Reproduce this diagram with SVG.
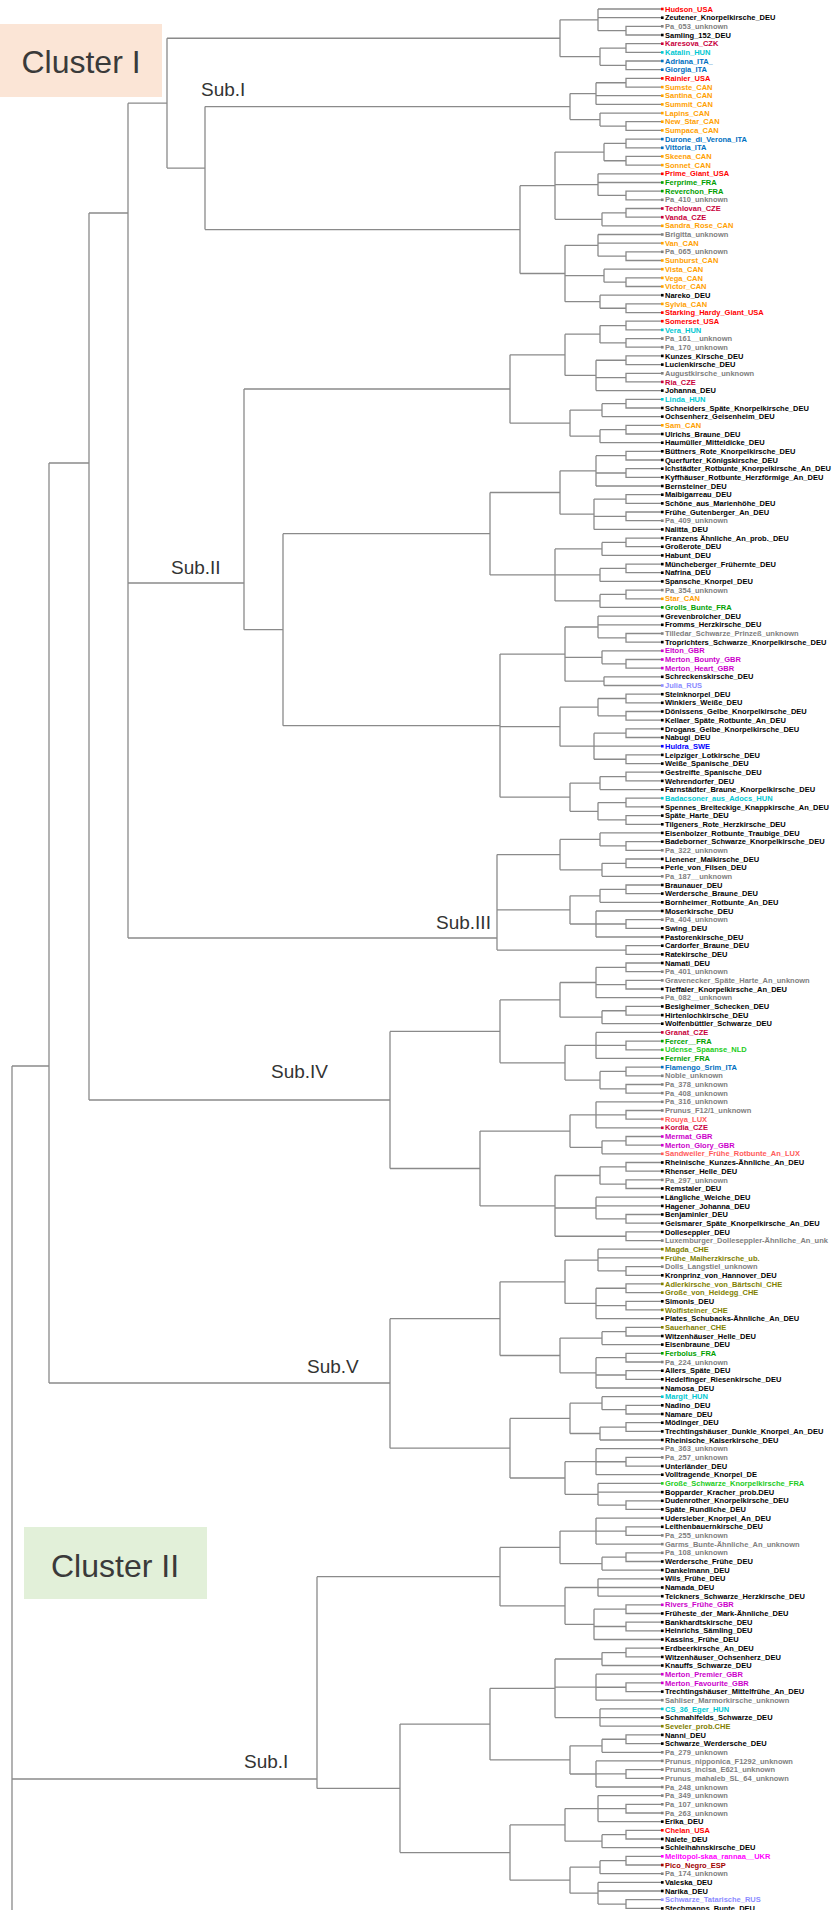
<svg xmlns="http://www.w3.org/2000/svg" width="836" height="1910" viewBox="0 0 836 1910">
<style>
.e{fill:none;stroke:#8a8a8a;stroke-width:1.3}
text.t{font-family:"Liberation Sans",Arial,sans-serif;font-size:7.5px;font-weight:bold}
.big{font-family:"Liberation Sans",Arial,sans-serif;font-size:32px;fill:#3a3a3a}
.sub{font-family:"Liberation Sans",Arial,sans-serif;font-size:19px;fill:#333}
.r{fill:#ff0000}.k{fill:#000}.g{fill:#808080}.cz{fill:#c8003c}.cy{fill:#00c8d2}.bl{fill:#0070c0}.o{fill:#ffa000}.gr{fill:#00a000}.lg{fill:#22cc22}.mg{fill:#cc00cc}.mf{fill:#ff00ff}.lb{fill:#8c8cff}.bb{fill:#0000ff}.sl{fill:#ff5a5a}.ol{fill:#808000}.dr{fill:#a00000}
</style>
<rect x="0" y="24" width="162" height="73" fill="#fbe5d6"/>
<text class="big" x="81" y="73" text-anchor="middle">Cluster I</text>
<rect x="24" y="1527" width="183" height="72" fill="#e2f0d9"/>
<text class="big" x="115" y="1577" text-anchor="middle">Cluster II</text>
<text class="sub" x="201" y="96">Sub.I</text>
<text class="sub" x="171" y="574">Sub.II</text>
<text class="sub" x="436" y="929">Sub.III</text>
<text class="sub" x="271" y="1078">Sub.IV</text>
<text class="sub" x="307" y="1373">Sub.V</text>
<text class="sub" x="244" y="1768">Sub.I</text>
<g id="connectors" class="e">
<path id="skeleton" d="M12 1066V1910M12 1066H49M49 463V1383M49 463H89M89 213V1100M89 213H128M128 103.2V938M128 103.2H167M128 583H244M128 938H497M89 1100H390M49 1383H390M12 1779H317"/>
<path id="subI" d="M598 9V30.65M598 9H661M598 17.7H661M661 26.3H626V35H661M598 30.65H626M600 48.05V65.35M661 43.7H626V52.4H661M600 48.05H626M661 61H626V69.7H661M600 65.35H626M596 82.75V104.4M661 78.4H626V87.1H661M596 82.75H626M596 95.7H661M596 104.4H661M600 113.1V126.05M600 113.1H661M661 121.7H626V130.4H661M600 126.05H626M604 143.45V160.75M661 139.1H626V147.8H661M604 143.45H626M661 156.4H626V165.1H661M604 160.75H626M598 173.8V195.45M598 173.8H661M598 182.5H661M661 191.1H626V199.8H661M598 195.45H626M602 212.85V225.8M661 208.5H626V217.2H661M602 212.85H626M602 225.8H661M598 234.5V256.15M598 234.5H661M598 243.2H661M661 251.8H626V260.5H661M598 256.15H626M604 269.2V282.2M604 269.2H661M661 277.9H626V286.5H661M604 282.2H626M600 295.2V308.25M600 295.2H661M661 303.9H626V312.6H661M600 308.25H626M560 19.8V56.7M560 19.8H598M560 56.7H600M570 93.6V119.6M570 93.6H596M570 119.6H600M555 152.1V219.3M555 152.1H604M555 184.6H598M555 219.3H602M565 245.3V301.7M565 245.3H598M565 275.7H604M565 301.7H600M520 185.7V273.5M520 185.7H555M520 273.5H565M205 106.6V229.6M205 106.6H570M205 229.6H520M167 38.25V168.1M167 38.25H560M167 168.1H205"/>
<path id="subII" d="M600 325.55V342.9M661 321.2H626V329.9H661M600 325.55H626M661 338.6H626V347.2H661M600 342.9H626M596 360.25V390.6M661 355.9H626V364.6H661M596 360.25H626M661 373.3H626V381.9H661M596 377.6H626M596 390.6H661M602 403.65V416.6M661 399.3H626V408H661M602 403.65H626M602 416.6H661M600 429.65V442.7M661 425.3H626V434H661M600 429.65H626M600 442.7H661M596 455.65V486M661 451.3H626V460H661M596 455.65H626M661 468.7H626V477.3H661M596 473H626M596 486H661M594 499.05V529.4M661 494.7H626V503.4H661M594 499.05H626M661 512H626V520.7H661M594 516.35H626M594 529.4H661M602 542.4V555.4M661 538.1H626V546.7H661M602 542.4H626M602 555.4H661M600 568.4V581.4M661 564.1H626V572.7H661M600 568.4H626M600 581.4H661M600 594.45V607.4M661 590.1H626V598.8H661M600 594.45H626M600 607.4H661M598 616.1V637.8M598 616.1H661M598 624.8H661M661 633.5H626V642.1H661M598 637.8H626M602 650.8V663.8M602 650.8H661M661 659.5H626V668.1H661M602 663.8H626M604 676.8V685.5M604 676.8H661M604 685.5H661M598 698.5V715.85M661 694.2H626V702.8H661M598 698.5H626M661 711.5H626V720.2H661M598 715.85H626M594 733.2V759.25M661 728.9H626V737.5H661M594 733.2H626M594 746.2H661M661 754.9H626V763.6H661M594 759.25H626M600 776.55V789.6M661 772.2H626V780.9H661M600 776.55H626M600 789.6H661M598 802.55V819.95M661 798.2H626V806.9H661M598 802.55H626M661 815.6H626V824.3H661M598 819.95H626M565 334.2V375.4M565 334.2H600M565 375.4H596M570 410.1V436.2M570 410.1H602M570 436.2H600M560 470.8V514.2M560 470.8H596M560 514.2H594M555 548.9V600.9M555 548.9H602M555 574.9H600M555 600.9H600M565 627V681.2M565 627H598M565 657.3H602M565 681.2H604M560 707.2V746.2M560 707.2H598M560 746.2H594M570 783.1V811.3M570 783.1H600M570 811.3H598M510 354.8V423.2M510 354.8H565M510 423.2H570M490 492.5V574.9M490 492.5H560M490 574.9H555M500 654.1V797.2M500 654.1H565M500 726.7H560M500 797.2H570M283 533.7V725.7M283 533.7H490M283 725.7H500M244 389V629.7M244 389H510M244 629.7H283"/>
<path id="subIII" d="M600 832.9V845.95M600 832.9H661M661 841.6H626V850.3H661M600 845.95H626M602 863.3V876.3M661 859H626V867.6H661M602 863.3H626M602 876.3H661M600 889.3V902.3M661 885H626V893.6H661M600 889.3H626M600 902.3H661M596 911V937M596 911H661M661 919.7H626V928.3H661M596 924H626M596 937H661M661 945.7H626V954.4H661M497 950.05H626M560 839.4V869.8M560 839.4H600M560 869.8H602M570 895.8V924M570 895.8H600M570 924H596M497 854.6V950.05M497 854.6H560M497 909.9H570"/>
<path id="subIV" d="M596 967.35V997.7M661 963H626V971.7H661M596 967.35H626M661 980.4H626V989H661M596 984.7H626M596 997.7H661M602 1010.75V1023.7M661 1006.4H626V1015.1H661M602 1010.75H626M602 1023.7H661M596 1032.4V1058.4M596 1032.4H661M661 1041.1H626V1049.8H661M596 1045.45H626M596 1058.4H661M600 1071.45V1088.8M661 1067.1H626V1075.8H661M600 1071.45H626M661 1084.5H626V1093.1H661M600 1088.8H626M596 1101.8V1127.8M596 1101.8H661M661 1110.5H626V1119.1H661M596 1114.8H626M596 1127.8H661M602 1140.85V1153.8M661 1136.5H626V1145.2H661M602 1140.85H626M602 1153.8H661M600 1166.85V1184.2M661 1162.5H626V1171.2H661M600 1166.85H626M661 1179.9H626V1188.5H661M600 1184.2H626M596 1197.2V1218.85M596 1197.2H661M596 1205.9H661M661 1214.5H626V1223.2H661M596 1218.85H626M661 1231.9H626V1240.6H661M555 1236.25H626M560 982.5V1017.2M560 982.5H596M560 1017.2H602M565 1045.4V1080.1M565 1045.4H596M565 1080.1H600M570 1114.8V1147.3M570 1114.8H596M570 1147.3H602M555 1175.5V1236.25M555 1175.5H600M555 1208H596M500 999.9V1062.8M500 999.9H560M500 1062.8H565M480 1131.1V1205.9M480 1131.1H570M480 1205.9H555M390 1031.4V1168.5M390 1031.4H500M390 1168.5H480"/>
<path id="subV" d="M598 1249.2V1270.95M598 1249.2H661M598 1257.9H661M661 1266.6H626V1275.3H661M598 1270.95H626M596 1288.25V1318.6M661 1283.9H626V1292.6H661M596 1288.25H626M661 1301.3H626V1309.9H661M596 1305.6H626M596 1318.6H661M602 1331.65V1344.6M661 1327.3H626V1336H661M602 1331.65H626M602 1344.6H661M596 1357.65V1388M661 1353.3H626V1362H661M596 1357.65H626M661 1370.7H626V1379.3H661M596 1375H626M596 1388H661M602 1396.7V1409.65M602 1396.7H661M661 1405.3H626V1414H661M602 1409.65H626M600 1427.05V1440M661 1422.7H626V1431.4H661M600 1427.05H626M600 1440H661M596 1448.7V1474.7M596 1448.7H661M661 1457.4H626V1466.1H661M596 1461.75H626M596 1474.7H661M598 1483.4V1505.1M598 1483.4H661M598 1492.1H661M661 1500.8H626V1509.4H661M598 1505.1H626M565 1260.1V1303.4M565 1260.1H598M565 1303.4H596M560 1338.1V1372.8M560 1338.1H602M560 1372.8H596M570 1403.2V1433.5M570 1403.2H602M570 1433.5H600M565 1461.7V1494.3M565 1461.7H596M565 1494.3H598M500 1281.8V1355.5M500 1281.8H565M500 1355.5H560M510 1418.4V1478M510 1418.4H570M510 1478H565M390 1318.7V1448.2M390 1318.7H500M390 1448.2H510"/>
<path id="clusterII" d="M596 1518.1V1544.1M596 1518.1H661M661 1526.8H626V1535.4H661M596 1531.1H626M596 1544.1H661M602 1557.15V1570.1M661 1552.8H626V1561.5H661M602 1557.15H626M602 1570.1H661M598 1578.8V1596.2M598 1578.8H661M598 1587.5H661M598 1596.2H661M594 1609.15V1639.5M661 1604.8H626V1613.5H661M594 1609.15H626M661 1622.2H626V1630.8H661M594 1626.5H626M594 1639.5H661M602 1652.55V1665.5M661 1648.2H626V1656.9H661M602 1652.55H626M602 1665.5H661M596 1674.2V1700.2M596 1674.2H661M661 1682.9H626V1691.6H661M596 1687.25H626M596 1700.2H661M600 1708.9V1726.2M600 1708.9H661M600 1717.6H661M600 1726.2H661M602 1739.25V1752.3M661 1734.9H626V1743.6H661M602 1739.25H626M602 1752.3H661M596 1760.9V1787M596 1760.9H661M661 1769.6H626V1778.3H661M596 1773.95H626M596 1787H661M598 1795.6V1821.6M598 1795.6H661M661 1804.3H626V1813H661M598 1808.65H626M598 1821.6H661M602 1834.65V1847.7M661 1830.3H626V1839H661M602 1834.65H626M602 1847.7H661M600 1860.65V1873.7M661 1856.3H626V1865H661M600 1860.65H626M600 1873.7H661M598 1882.4V1904.05M598 1882.4H661M598 1891H661M661 1899.7H626V1908.4H661M598 1904.05H626M560 1531.1V1563.6M560 1531.1H596M560 1563.6H602M565 1587.5V1624.3M565 1587.5H598M565 1624.3H594M555 1659V1717.6M555 1659H602M555 1687.2H596M555 1717.6H600M570 1745.8V1774M570 1745.8H602M570 1774H596M565 1808.6V1841.2M565 1808.6H598M565 1841.2H602M570 1867.2V1893.2M570 1867.2H600M570 1893.2H598M500 1547.4V1605.9M500 1547.4H560M500 1605.9H565M490 1688.3V1759.9M490 1688.3H555M490 1759.9H570M510 1824.9V1880.2M510 1824.9H565M510 1880.2H570M400 1724.1V1852.6M400 1724.1H490M400 1852.6H510M317 1576.7V1788.4M317 1576.7H500M317 1788.4H400"/>
</g>
<g id="leaves">
<g id="L0" class="r"><rect x="661" y="7.7" width="2.6" height="2.6"/><text class="t" x="665" y="11.6">Hudson_USA</text></g>
<g id="L1" class="k"><rect x="661" y="16.4" width="2.6" height="2.6"/><text class="t" x="665" y="20.3">Zeutener_Knorpelkirsche_DEU</text></g>
<g id="L2" class="g"><rect x="661" y="25" width="2.6" height="2.6"/><text class="t" x="665" y="28.9">Pa_053_unknown</text></g>
<g id="L3" class="k"><rect x="661" y="33.7" width="2.6" height="2.6"/><text class="t" x="665" y="37.6">Samling_152_DEU</text></g>
<g id="L4" class="cz"><rect x="661" y="42.4" width="2.6" height="2.6"/><text class="t" x="665" y="46.3">Karesova_CZK</text></g>
<g id="L5" class="cy"><rect x="661" y="51.1" width="2.6" height="2.6"/><text class="t" x="665" y="55">Katalin_HUN</text></g>
<g id="L6" class="bl"><rect x="661" y="59.7" width="2.6" height="2.6"/><text class="t" x="665" y="63.6">Adriana_ITA_</text></g>
<g id="L7" class="bl"><rect x="661" y="68.4" width="2.6" height="2.6"/><text class="t" x="665" y="72.3">Giorgia_ITA</text></g>
<g id="L8" class="r"><rect x="661" y="77.1" width="2.6" height="2.6"/><text class="t" x="665" y="81">Rainier_USA</text></g>
<g id="L9" class="o"><rect x="661" y="85.8" width="2.6" height="2.6"/><text class="t" x="665" y="89.7">Sumste_CAN</text></g>
<g id="L10" class="o"><rect x="661" y="94.4" width="2.6" height="2.6"/><text class="t" x="665" y="98.3">Santina_CAN</text></g>
<g id="L11" class="o"><rect x="661" y="103.1" width="2.6" height="2.6"/><text class="t" x="665" y="107">Summit_CAN</text></g>
<g id="L12" class="o"><rect x="661" y="111.8" width="2.6" height="2.6"/><text class="t" x="665" y="115.7">Lapins_CAN</text></g>
<g id="L13" class="o"><rect x="661" y="120.4" width="2.6" height="2.6"/><text class="t" x="665" y="124.3">New_Star_CAN</text></g>
<g id="L14" class="o"><rect x="661" y="129.1" width="2.6" height="2.6"/><text class="t" x="665" y="133">Sumpaca_CAN</text></g>
<g id="L15" class="bl"><rect x="661" y="137.8" width="2.6" height="2.6"/><text class="t" x="665" y="141.7">Durone_di_Verona_ITA</text></g>
<g id="L16" class="bl"><rect x="661" y="146.5" width="2.6" height="2.6"/><text class="t" x="665" y="150.4">Vittoria_ITA</text></g>
<g id="L17" class="o"><rect x="661" y="155.1" width="2.6" height="2.6"/><text class="t" x="665" y="159">Skeena_CAN</text></g>
<g id="L18" class="o"><rect x="661" y="163.8" width="2.6" height="2.6"/><text class="t" x="665" y="167.7">Sonnet_CAN</text></g>
<g id="L19" class="r"><rect x="661" y="172.5" width="2.6" height="2.6"/><text class="t" x="665" y="176.4">Prime_Giant_USA</text></g>
<g id="L20" class="gr"><rect x="661" y="181.2" width="2.6" height="2.6"/><text class="t" x="665" y="185.1">Ferprime_FRA</text></g>
<g id="L21" class="gr"><rect x="661" y="189.8" width="2.6" height="2.6"/><text class="t" x="665" y="193.7">Reverchon_FRA</text></g>
<g id="L22" class="g"><rect x="661" y="198.5" width="2.6" height="2.6"/><text class="t" x="665" y="202.4">Pa_410_unknown</text></g>
<g id="L23" class="cz"><rect x="661" y="207.2" width="2.6" height="2.6"/><text class="t" x="665" y="211.1">Techlovan_CZE</text></g>
<g id="L24" class="cz"><rect x="661" y="215.9" width="2.6" height="2.6"/><text class="t" x="665" y="219.8">Vanda_CZE</text></g>
<g id="L25" class="o"><rect x="661" y="224.5" width="2.6" height="2.6"/><text class="t" x="665" y="228.4">Sandra_Rose_CAN</text></g>
<g id="L26" class="g"><rect x="661" y="233.2" width="2.6" height="2.6"/><text class="t" x="665" y="237.1">Brigitta_unknown</text></g>
<g id="L27" class="o"><rect x="661" y="241.9" width="2.6" height="2.6"/><text class="t" x="665" y="245.8">Van_CAN</text></g>
<g id="L28" class="g"><rect x="661" y="250.5" width="2.6" height="2.6"/><text class="t" x="665" y="254.4">Pa_065_unknown</text></g>
<g id="L29" class="o"><rect x="661" y="259.2" width="2.6" height="2.6"/><text class="t" x="665" y="263.1">Sunburst_CAN</text></g>
<g id="L30" class="o"><rect x="661" y="267.9" width="2.6" height="2.6"/><text class="t" x="665" y="271.8">Vista_CAN</text></g>
<g id="L31" class="o"><rect x="661" y="276.6" width="2.6" height="2.6"/><text class="t" x="665" y="280.5">Vega_CAN</text></g>
<g id="L32" class="o"><rect x="661" y="285.2" width="2.6" height="2.6"/><text class="t" x="665" y="289.1">Victor_CAN</text></g>
<g id="L33" class="k"><rect x="661" y="293.9" width="2.6" height="2.6"/><text class="t" x="665" y="297.8">Nareko_DEU</text></g>
<g id="L34" class="o"><rect x="661" y="302.6" width="2.6" height="2.6"/><text class="t" x="665" y="306.5">Sylvia_CAN</text></g>
<g id="L35" class="r"><rect x="661" y="311.3" width="2.6" height="2.6"/><text class="t" x="665" y="315.2">Starking_Hardy_Giant_USA</text></g>
<g id="L36" class="r"><rect x="661" y="319.9" width="2.6" height="2.6"/><text class="t" x="665" y="323.8">Somerset_USA</text></g>
<g id="L37" class="cy"><rect x="661" y="328.6" width="2.6" height="2.6"/><text class="t" x="665" y="332.5">Vera_HUN</text></g>
<g id="L38" class="g"><rect x="661" y="337.3" width="2.6" height="2.6"/><text class="t" x="665" y="341.2">Pa_161__unknown</text></g>
<g id="L39" class="g"><rect x="661" y="345.9" width="2.6" height="2.6"/><text class="t" x="665" y="349.8">Pa_170_unknown</text></g>
<g id="L40" class="k"><rect x="661" y="354.6" width="2.6" height="2.6"/><text class="t" x="665" y="358.5">Kunzes_Kirsche_DEU</text></g>
<g id="L41" class="k"><rect x="661" y="363.3" width="2.6" height="2.6"/><text class="t" x="665" y="367.2">Lucienkirsche_DEU</text></g>
<g id="L42" class="g"><rect x="661" y="372" width="2.6" height="2.6"/><text class="t" x="665" y="375.9">Augustkirsche_unknown</text></g>
<g id="L43" class="cz"><rect x="661" y="380.6" width="2.6" height="2.6"/><text class="t" x="665" y="384.5">Ria_CZE</text></g>
<g id="L44" class="k"><rect x="661" y="389.3" width="2.6" height="2.6"/><text class="t" x="665" y="393.2">Johanna_DEU</text></g>
<g id="L45" class="cy"><rect x="661" y="398" width="2.6" height="2.6"/><text class="t" x="665" y="401.9">Linda_HUN</text></g>
<g id="L46" class="k"><rect x="661" y="406.7" width="2.6" height="2.6"/><text class="t" x="665" y="410.6">Schneiders_Späte_Knorpelkirsche_DEU</text></g>
<g id="L47" class="k"><rect x="661" y="415.3" width="2.6" height="2.6"/><text class="t" x="665" y="419.2">Ochsenherz_Geisenheim_DEU</text></g>
<g id="L48" class="o"><rect x="661" y="424" width="2.6" height="2.6"/><text class="t" x="665" y="427.9">Sam_CAN</text></g>
<g id="L49" class="k"><rect x="661" y="432.7" width="2.6" height="2.6"/><text class="t" x="665" y="436.6">Ulrichs_Braune_DEU</text></g>
<g id="L50" class="k"><rect x="661" y="441.4" width="2.6" height="2.6"/><text class="t" x="665" y="445.3">Haumüller_Mitteldicke_DEU</text></g>
<g id="L51" class="k"><rect x="661" y="450" width="2.6" height="2.6"/><text class="t" x="665" y="453.9">Büttners_Rote_Knorpelkirsche_DEU</text></g>
<g id="L52" class="k"><rect x="661" y="458.7" width="2.6" height="2.6"/><text class="t" x="665" y="462.6">Querfurter_Königskirsche_DEU</text></g>
<g id="L53" class="k"><rect x="661" y="467.4" width="2.6" height="2.6"/><text class="t" x="665" y="471.3">Ichstädter_Rotbunte_Knorpelkirsche_An_DEU</text></g>
<g id="L54" class="k"><rect x="661" y="476" width="2.6" height="2.6"/><text class="t" x="665" y="479.9">Kyffhäuser_Rotbunte_Herzförmige_An_DEU</text></g>
<g id="L55" class="k"><rect x="661" y="484.7" width="2.6" height="2.6"/><text class="t" x="665" y="488.6">Bernsteiner_DEU</text></g>
<g id="L56" class="k"><rect x="661" y="493.4" width="2.6" height="2.6"/><text class="t" x="665" y="497.3">Maibigarreau_DEU</text></g>
<g id="L57" class="k"><rect x="661" y="502.1" width="2.6" height="2.6"/><text class="t" x="665" y="506">Schöne_aus_Marienhöhe_DEU</text></g>
<g id="L58" class="k"><rect x="661" y="510.7" width="2.6" height="2.6"/><text class="t" x="665" y="514.6">Frühe_Gutenberger_An_DEU</text></g>
<g id="L59" class="g"><rect x="661" y="519.4" width="2.6" height="2.6"/><text class="t" x="665" y="523.3">Pa_409_unknown</text></g>
<g id="L60" class="k"><rect x="661" y="528.1" width="2.6" height="2.6"/><text class="t" x="665" y="532">Nalitta_DEU</text></g>
<g id="L61" class="k"><rect x="661" y="536.8" width="2.6" height="2.6"/><text class="t" x="665" y="540.7">Franzens Ähnliche_An_prob._DEU</text></g>
<g id="L62" class="k"><rect x="661" y="545.4" width="2.6" height="2.6"/><text class="t" x="665" y="549.3">Großerote_DEU</text></g>
<g id="L63" class="k"><rect x="661" y="554.1" width="2.6" height="2.6"/><text class="t" x="665" y="558">Habunt_DEU</text></g>
<g id="L64" class="k"><rect x="661" y="562.8" width="2.6" height="2.6"/><text class="t" x="665" y="566.7">Müncheberger_Frühernte_DEU</text></g>
<g id="L65" class="k"><rect x="661" y="571.4" width="2.6" height="2.6"/><text class="t" x="665" y="575.3">Nafrina_DEU</text></g>
<g id="L66" class="k"><rect x="661" y="580.1" width="2.6" height="2.6"/><text class="t" x="665" y="584">Spansche_Knorpel_DEU</text></g>
<g id="L67" class="g"><rect x="661" y="588.8" width="2.6" height="2.6"/><text class="t" x="665" y="592.7">Pa_354_unknown</text></g>
<g id="L68" class="o"><rect x="661" y="597.5" width="2.6" height="2.6"/><text class="t" x="665" y="601.4">Star_CAN</text></g>
<g id="L69" class="gr"><rect x="661" y="606.1" width="2.6" height="2.6"/><text class="t" x="665" y="610">Grolls_Bunte_FRA</text></g>
<g id="L70" class="k"><rect x="661" y="614.8" width="2.6" height="2.6"/><text class="t" x="665" y="618.7">Grevenbroicher_DEU</text></g>
<g id="L71" class="k"><rect x="661" y="623.5" width="2.6" height="2.6"/><text class="t" x="665" y="627.4">Fromms_Herzkirsche_DEU</text></g>
<g id="L72" class="g"><rect x="661" y="632.2" width="2.6" height="2.6"/><text class="t" x="665" y="636.1">Tilledar_Schwarze_Prinzeß_unknown</text></g>
<g id="L73" class="k"><rect x="661" y="640.8" width="2.6" height="2.6"/><text class="t" x="665" y="644.7">Troprichters_Schwarze_Knorpelkirsche_DEU</text></g>
<g id="L74" class="mg"><rect x="661" y="649.5" width="2.6" height="2.6"/><text class="t" x="665" y="653.4">Elton_GBR</text></g>
<g id="L75" class="mg"><rect x="661" y="658.2" width="2.6" height="2.6"/><text class="t" x="665" y="662.1">Merton_Bounty_GBR</text></g>
<g id="L76" class="mg"><rect x="661" y="666.8" width="2.6" height="2.6"/><text class="t" x="665" y="670.7">Merton_Heart_GBR</text></g>
<g id="L77" class="k"><rect x="661" y="675.5" width="2.6" height="2.6"/><text class="t" x="665" y="679.4">Schreckenskirsche_DEU</text></g>
<g id="L78" class="lb"><rect x="661" y="684.2" width="2.6" height="2.6"/><text class="t" x="665" y="688.1">Julia_RUS</text></g>
<g id="L79" class="k"><rect x="661" y="692.9" width="2.6" height="2.6"/><text class="t" x="665" y="696.8">Steinknorpel_DEU</text></g>
<g id="L80" class="k"><rect x="661" y="701.5" width="2.6" height="2.6"/><text class="t" x="665" y="705.4">Winklers_Weiße_DEU</text></g>
<g id="L81" class="k"><rect x="661" y="710.2" width="2.6" height="2.6"/><text class="t" x="665" y="714.1">Dönissens_Gelbe_Knorpelkirsche_DEU</text></g>
<g id="L82" class="k"><rect x="661" y="718.9" width="2.6" height="2.6"/><text class="t" x="665" y="722.8">Kellaer_Späte_Rotbunte_An_DEU</text></g>
<g id="L83" class="k"><rect x="661" y="727.6" width="2.6" height="2.6"/><text class="t" x="665" y="731.5">Drogans_Gelbe_Knorpelkirsche_DEU</text></g>
<g id="L84" class="k"><rect x="661" y="736.2" width="2.6" height="2.6"/><text class="t" x="665" y="740.1">Nabugi_DEU</text></g>
<g id="L85" class="bb"><rect x="661" y="744.9" width="2.6" height="2.6"/><text class="t" x="665" y="748.8">Huldra_SWE</text></g>
<g id="L86" class="k"><rect x="661" y="753.6" width="2.6" height="2.6"/><text class="t" x="665" y="757.5">Leipziger_Lotkirsche_DEU</text></g>
<g id="L87" class="k"><rect x="661" y="762.3" width="2.6" height="2.6"/><text class="t" x="665" y="766.2">Weiße_Spanische_DEU</text></g>
<g id="L88" class="k"><rect x="661" y="770.9" width="2.6" height="2.6"/><text class="t" x="665" y="774.8">Gestreifte_Spanische_DEU</text></g>
<g id="L89" class="k"><rect x="661" y="779.6" width="2.6" height="2.6"/><text class="t" x="665" y="783.5">Wehrendorfer_DEU</text></g>
<g id="L90" class="k"><rect x="661" y="788.3" width="2.6" height="2.6"/><text class="t" x="665" y="792.2">Farnstädter_Braune_Knorpelkirsche_DEU</text></g>
<g id="L91" class="cy"><rect x="661" y="796.9" width="2.6" height="2.6"/><text class="t" x="665" y="800.8">Badacsoner_aus_Adocs_HUN</text></g>
<g id="L92" class="k"><rect x="661" y="805.6" width="2.6" height="2.6"/><text class="t" x="665" y="809.5">Spennes_Breiteckige_Knappkirsche_An_DEU</text></g>
<g id="L93" class="k"><rect x="661" y="814.3" width="2.6" height="2.6"/><text class="t" x="665" y="818.2">Späte_Harte_DEU</text></g>
<g id="L94" class="k"><rect x="661" y="823" width="2.6" height="2.6"/><text class="t" x="665" y="826.9">Tilgeners_Rote_Herzkirsche_DEU</text></g>
<g id="L95" class="k"><rect x="661" y="831.6" width="2.6" height="2.6"/><text class="t" x="665" y="835.5">Eisenbolzer_Rotbunte_Traubige_DEU</text></g>
<g id="L96" class="k"><rect x="661" y="840.3" width="2.6" height="2.6"/><text class="t" x="665" y="844.2">Badeborner_Schwarze_Knorpelkirsche_DEU</text></g>
<g id="L97" class="g"><rect x="661" y="849" width="2.6" height="2.6"/><text class="t" x="665" y="852.9">Pa_322_unknown</text></g>
<g id="L98" class="k"><rect x="661" y="857.7" width="2.6" height="2.6"/><text class="t" x="665" y="861.6">Lienener_Maikirsche_DEU</text></g>
<g id="L99" class="k"><rect x="661" y="866.3" width="2.6" height="2.6"/><text class="t" x="665" y="870.2">Perle_von_Filsen_DEU</text></g>
<g id="L100" class="g"><rect x="661" y="875" width="2.6" height="2.6"/><text class="t" x="665" y="878.9">Pa_187__unknown</text></g>
<g id="L101" class="k"><rect x="661" y="883.7" width="2.6" height="2.6"/><text class="t" x="665" y="887.6">Braunauer_DEU</text></g>
<g id="L102" class="k"><rect x="661" y="892.3" width="2.6" height="2.6"/><text class="t" x="665" y="896.2">Werdersche_Braune_DEU</text></g>
<g id="L103" class="k"><rect x="661" y="901" width="2.6" height="2.6"/><text class="t" x="665" y="904.9">Bornheimer_Rotbunte_An_DEU</text></g>
<g id="L104" class="k"><rect x="661" y="909.7" width="2.6" height="2.6"/><text class="t" x="665" y="913.6">Moserkirsche_DEU</text></g>
<g id="L105" class="g"><rect x="661" y="918.4" width="2.6" height="2.6"/><text class="t" x="665" y="922.3">Pa_404_unknown</text></g>
<g id="L106" class="k"><rect x="661" y="927" width="2.6" height="2.6"/><text class="t" x="665" y="930.9">Swing_DEU</text></g>
<g id="L107" class="k"><rect x="661" y="935.7" width="2.6" height="2.6"/><text class="t" x="665" y="939.6">Pastorenkirsche_DEU</text></g>
<g id="L108" class="k"><rect x="661" y="944.4" width="2.6" height="2.6"/><text class="t" x="665" y="948.3">Cardorfer_Braune_DEU</text></g>
<g id="L109" class="k"><rect x="661" y="953.1" width="2.6" height="2.6"/><text class="t" x="665" y="957">Ratekirsche_DEU</text></g>
<g id="L110" class="k"><rect x="661" y="961.7" width="2.6" height="2.6"/><text class="t" x="665" y="965.6">Namati_DEU</text></g>
<g id="L111" class="g"><rect x="661" y="970.4" width="2.6" height="2.6"/><text class="t" x="665" y="974.3">Pa_401_unknown</text></g>
<g id="L112" class="g"><rect x="661" y="979.1" width="2.6" height="2.6"/><text class="t" x="665" y="983">Gravenecker_Späte_Harte_An_unknown</text></g>
<g id="L113" class="k"><rect x="661" y="987.7" width="2.6" height="2.6"/><text class="t" x="665" y="991.6">Tieffaler_Knorpelkirsche_An_DEU</text></g>
<g id="L114" class="g"><rect x="661" y="996.4" width="2.6" height="2.6"/><text class="t" x="665" y="1000.3">Pa_082__unknown</text></g>
<g id="L115" class="k"><rect x="661" y="1005.1" width="2.6" height="2.6"/><text class="t" x="665" y="1009">Besigheimer_Schecken_DEU</text></g>
<g id="L116" class="k"><rect x="661" y="1013.8" width="2.6" height="2.6"/><text class="t" x="665" y="1017.7">Hirtenlochkirsche_DEU</text></g>
<g id="L117" class="k"><rect x="661" y="1022.4" width="2.6" height="2.6"/><text class="t" x="665" y="1026.3">Wolfenbüttler_Schwarze_DEU</text></g>
<g id="L118" class="cz"><rect x="661" y="1031.1" width="2.6" height="2.6"/><text class="t" x="665" y="1035">Granat_CZE</text></g>
<g id="L119" class="gr"><rect x="661" y="1039.8" width="2.6" height="2.6"/><text class="t" x="665" y="1043.7">Fercer__FRA</text></g>
<g id="L120" class="lg"><rect x="661" y="1048.5" width="2.6" height="2.6"/><text class="t" x="665" y="1052.4">Udense_Spaanse_NLD</text></g>
<g id="L121" class="gr"><rect x="661" y="1057.1" width="2.6" height="2.6"/><text class="t" x="665" y="1061">Fernier_FRA</text></g>
<g id="L122" class="bl"><rect x="661" y="1065.8" width="2.6" height="2.6"/><text class="t" x="665" y="1069.7">Flamengo_Srim_ITA</text></g>
<g id="L123" class="g"><rect x="661" y="1074.5" width="2.6" height="2.6"/><text class="t" x="665" y="1078.4">Noble_unknown</text></g>
<g id="L124" class="g"><rect x="661" y="1083.2" width="2.6" height="2.6"/><text class="t" x="665" y="1087.1">Pa_378_unknown</text></g>
<g id="L125" class="g"><rect x="661" y="1091.8" width="2.6" height="2.6"/><text class="t" x="665" y="1095.7">Pa_408_unknown</text></g>
<g id="L126" class="g"><rect x="661" y="1100.5" width="2.6" height="2.6"/><text class="t" x="665" y="1104.4">Pa_316_unknown</text></g>
<g id="L127" class="g"><rect x="661" y="1109.2" width="2.6" height="2.6"/><text class="t" x="665" y="1113.1">Prunus_F12/1_unknown</text></g>
<g id="L128" class="sl"><rect x="661" y="1117.8" width="2.6" height="2.6"/><text class="t" x="665" y="1121.7">Rouya_LUX</text></g>
<g id="L129" class="cz"><rect x="661" y="1126.5" width="2.6" height="2.6"/><text class="t" x="665" y="1130.4">Kordia_CZE</text></g>
<g id="L130" class="mg"><rect x="661" y="1135.2" width="2.6" height="2.6"/><text class="t" x="665" y="1139.1">Mermat_GBR</text></g>
<g id="L131" class="mg"><rect x="661" y="1143.9" width="2.6" height="2.6"/><text class="t" x="665" y="1147.8">Merton_Glory_GBR</text></g>
<g id="L132" class="sl"><rect x="661" y="1152.5" width="2.6" height="2.6"/><text class="t" x="665" y="1156.4">Sandweiler_Frühe_Rotbunte_An_LUX</text></g>
<g id="L133" class="k"><rect x="661" y="1161.2" width="2.6" height="2.6"/><text class="t" x="665" y="1165.1">Rheinische_Kunzes-Ähnliche_An_DEU</text></g>
<g id="L134" class="k"><rect x="661" y="1169.9" width="2.6" height="2.6"/><text class="t" x="665" y="1173.8">Rhenser_Helle_DEU</text></g>
<g id="L135" class="g"><rect x="661" y="1178.6" width="2.6" height="2.6"/><text class="t" x="665" y="1182.5">Pa_297_unknown</text></g>
<g id="L136" class="k"><rect x="661" y="1187.2" width="2.6" height="2.6"/><text class="t" x="665" y="1191.1">Remstaler_DEU</text></g>
<g id="L137" class="k"><rect x="661" y="1195.9" width="2.6" height="2.6"/><text class="t" x="665" y="1199.8">Längliche_Weiche_DEU</text></g>
<g id="L138" class="k"><rect x="661" y="1204.6" width="2.6" height="2.6"/><text class="t" x="665" y="1208.5">Hagener_Johanna_DEU</text></g>
<g id="L139" class="k"><rect x="661" y="1213.2" width="2.6" height="2.6"/><text class="t" x="665" y="1217.1">Benjaminler_DEU</text></g>
<g id="L140" class="k"><rect x="661" y="1221.9" width="2.6" height="2.6"/><text class="t" x="665" y="1225.8">Geismarer_Späte_Knorpelkirsche_An_DEU</text></g>
<g id="L141" class="k"><rect x="661" y="1230.6" width="2.6" height="2.6"/><text class="t" x="665" y="1234.5">Dolleseppler_DEU</text></g>
<g id="L142" class="g"><rect x="661" y="1239.3" width="2.6" height="2.6"/><text class="t" x="665" y="1243.2">Luxemburger_Dolleseppler-Ähnliche_An_unk</text></g>
<g id="L143" class="ol"><rect x="661" y="1247.9" width="2.6" height="2.6"/><text class="t" x="665" y="1251.8">Magda_CHE</text></g>
<g id="L144" class="ol"><rect x="661" y="1256.6" width="2.6" height="2.6"/><text class="t" x="665" y="1260.5">Frühe_Maiherzkirsche_ub.</text></g>
<g id="L145" class="g"><rect x="661" y="1265.3" width="2.6" height="2.6"/><text class="t" x="665" y="1269.2">Dolls_Langstiel_unknown</text></g>
<g id="L146" class="k"><rect x="661" y="1274" width="2.6" height="2.6"/><text class="t" x="665" y="1277.9">Kronprinz_von_Hannover_DEU</text></g>
<g id="L147" class="ol"><rect x="661" y="1282.6" width="2.6" height="2.6"/><text class="t" x="665" y="1286.5">Adlerkirsche_von_Bärtschi_CHE</text></g>
<g id="L148" class="ol"><rect x="661" y="1291.3" width="2.6" height="2.6"/><text class="t" x="665" y="1295.2">Große_von_Heidegg_CHE</text></g>
<g id="L149" class="k"><rect x="661" y="1300" width="2.6" height="2.6"/><text class="t" x="665" y="1303.9">Simonis_DEU</text></g>
<g id="L150" class="ol"><rect x="661" y="1308.6" width="2.6" height="2.6"/><text class="t" x="665" y="1312.5">Wolfisteiner_CHE</text></g>
<g id="L151" class="k"><rect x="661" y="1317.3" width="2.6" height="2.6"/><text class="t" x="665" y="1321.2">Plates_Schubacks-Ähnliche_An_DEU</text></g>
<g id="L152" class="ol"><rect x="661" y="1326" width="2.6" height="2.6"/><text class="t" x="665" y="1329.9">Sauerhaner_CHE</text></g>
<g id="L153" class="k"><rect x="661" y="1334.7" width="2.6" height="2.6"/><text class="t" x="665" y="1338.6">Witzenhäuser_Helle_DEU</text></g>
<g id="L154" class="k"><rect x="661" y="1343.3" width="2.6" height="2.6"/><text class="t" x="665" y="1347.2">Eisenbraune_DEU</text></g>
<g id="L155" class="gr"><rect x="661" y="1352" width="2.6" height="2.6"/><text class="t" x="665" y="1355.9">Ferbolus_FRA</text></g>
<g id="L156" class="g"><rect x="661" y="1360.7" width="2.6" height="2.6"/><text class="t" x="665" y="1364.6">Pa_224_unknown</text></g>
<g id="L157" class="k"><rect x="661" y="1369.4" width="2.6" height="2.6"/><text class="t" x="665" y="1373.3">Allers_Späte_DEU</text></g>
<g id="L158" class="k"><rect x="661" y="1378" width="2.6" height="2.6"/><text class="t" x="665" y="1381.9">Hedelfinger_Riesenkirsche_DEU</text></g>
<g id="L159" class="k"><rect x="661" y="1386.7" width="2.6" height="2.6"/><text class="t" x="665" y="1390.6">Namosa_DEU</text></g>
<g id="L160" class="cy"><rect x="661" y="1395.4" width="2.6" height="2.6"/><text class="t" x="665" y="1399.3">Margit_HUN</text></g>
<g id="L161" class="k"><rect x="661" y="1404" width="2.6" height="2.6"/><text class="t" x="665" y="1407.9">Nadino_DEU</text></g>
<g id="L162" class="k"><rect x="661" y="1412.7" width="2.6" height="2.6"/><text class="t" x="665" y="1416.6">Namare_DEU</text></g>
<g id="L163" class="k"><rect x="661" y="1421.4" width="2.6" height="2.6"/><text class="t" x="665" y="1425.3">Mödinger_DEU</text></g>
<g id="L164" class="k"><rect x="661" y="1430.1" width="2.6" height="2.6"/><text class="t" x="665" y="1434">Trechtingshäuser_Dunkle_Knorpel_An_DEU</text></g>
<g id="L165" class="k"><rect x="661" y="1438.7" width="2.6" height="2.6"/><text class="t" x="665" y="1442.6">Rheinische_Kaiserkirsche_DEU</text></g>
<g id="L166" class="g"><rect x="661" y="1447.4" width="2.6" height="2.6"/><text class="t" x="665" y="1451.3">Pa_363_unknown</text></g>
<g id="L167" class="g"><rect x="661" y="1456.1" width="2.6" height="2.6"/><text class="t" x="665" y="1460">Pa_257_unknown</text></g>
<g id="L168" class="k"><rect x="661" y="1464.8" width="2.6" height="2.6"/><text class="t" x="665" y="1468.7">Unterländer_DEU</text></g>
<g id="L169" class="k"><rect x="661" y="1473.4" width="2.6" height="2.6"/><text class="t" x="665" y="1477.3">Volltragende_Knorpel_DE</text></g>
<g id="L170" class="lg"><rect x="661" y="1482.1" width="2.6" height="2.6"/><text class="t" x="665" y="1486">Große_Schwarze_Knorpelkirsche_FRA</text></g>
<g id="L171" class="k"><rect x="661" y="1490.8" width="2.6" height="2.6"/><text class="t" x="665" y="1494.7">Bopparder_Kracher_prob.DEU</text></g>
<g id="L172" class="k"><rect x="661" y="1499.5" width="2.6" height="2.6"/><text class="t" x="665" y="1503.4">Dudenrother_Knorpelkirsche_DEU</text></g>
<g id="L173" class="k"><rect x="661" y="1508.1" width="2.6" height="2.6"/><text class="t" x="665" y="1512">Späte_Rundliche_DEU</text></g>
<g id="L174" class="k"><rect x="661" y="1516.8" width="2.6" height="2.6"/><text class="t" x="665" y="1520.7">Udersleber_Knorpel_An_DEU</text></g>
<g id="L175" class="k"><rect x="661" y="1525.5" width="2.6" height="2.6"/><text class="t" x="665" y="1529.4">Leithenbauernkirsche_DEU</text></g>
<g id="L176" class="g"><rect x="661" y="1534.1" width="2.6" height="2.6"/><text class="t" x="665" y="1538">Pa_255_unknown</text></g>
<g id="L177" class="g"><rect x="661" y="1542.8" width="2.6" height="2.6"/><text class="t" x="665" y="1546.7">Garms_Bunte-Ähnliche_An_unknown</text></g>
<g id="L178" class="g"><rect x="661" y="1551.5" width="2.6" height="2.6"/><text class="t" x="665" y="1555.4">Pa_108_unknown</text></g>
<g id="L179" class="k"><rect x="661" y="1560.2" width="2.6" height="2.6"/><text class="t" x="665" y="1564.1">Werdersche_Frühe_DEU</text></g>
<g id="L180" class="k"><rect x="661" y="1568.8" width="2.6" height="2.6"/><text class="t" x="665" y="1572.7">Dankelmann_DEU</text></g>
<g id="L181" class="k"><rect x="661" y="1577.5" width="2.6" height="2.6"/><text class="t" x="665" y="1581.4">Wils_Frühe_DEU</text></g>
<g id="L182" class="k"><rect x="661" y="1586.2" width="2.6" height="2.6"/><text class="t" x="665" y="1590.1">Namada_DEU</text></g>
<g id="L183" class="k"><rect x="661" y="1594.9" width="2.6" height="2.6"/><text class="t" x="665" y="1598.8">Teickners_Schwarze_Herzkirsche_DEU</text></g>
<g id="L184" class="mg"><rect x="661" y="1603.5" width="2.6" height="2.6"/><text class="t" x="665" y="1607.4">Rivers_Frühe_GBR</text></g>
<g id="L185" class="k"><rect x="661" y="1612.2" width="2.6" height="2.6"/><text class="t" x="665" y="1616.1">Früheste_der_Mark-Ähnliche_DEU</text></g>
<g id="L186" class="k"><rect x="661" y="1620.9" width="2.6" height="2.6"/><text class="t" x="665" y="1624.8">Bankhardtskirsche_DEU</text></g>
<g id="L187" class="k"><rect x="661" y="1629.5" width="2.6" height="2.6"/><text class="t" x="665" y="1633.4">Heinrichs_Sämling_DEU</text></g>
<g id="L188" class="k"><rect x="661" y="1638.2" width="2.6" height="2.6"/><text class="t" x="665" y="1642.1">Kassins_Frühe_DEU</text></g>
<g id="L189" class="k"><rect x="661" y="1646.9" width="2.6" height="2.6"/><text class="t" x="665" y="1650.8">Erdbeerkirsche_An_DEU</text></g>
<g id="L190" class="k"><rect x="661" y="1655.6" width="2.6" height="2.6"/><text class="t" x="665" y="1659.5">Witzenhäuser_Ochsenherz_DEU</text></g>
<g id="L191" class="k"><rect x="661" y="1664.2" width="2.6" height="2.6"/><text class="t" x="665" y="1668.1">Knauffs_Schwarze_DEU</text></g>
<g id="L192" class="mg"><rect x="661" y="1672.9" width="2.6" height="2.6"/><text class="t" x="665" y="1676.8">Merton_Premier_GBR</text></g>
<g id="L193" class="mg"><rect x="661" y="1681.6" width="2.6" height="2.6"/><text class="t" x="665" y="1685.5">Merton_Favourite_GBR</text></g>
<g id="L194" class="k"><rect x="661" y="1690.3" width="2.6" height="2.6"/><text class="t" x="665" y="1694.2">Trechtingshäuser_Mittelfrühe_An_DEU</text></g>
<g id="L195" class="g"><rect x="661" y="1698.9" width="2.6" height="2.6"/><text class="t" x="665" y="1702.8">Sahliser_Marmorkirsche_unknown</text></g>
<g id="L196" class="cy"><rect x="661" y="1707.6" width="2.6" height="2.6"/><text class="t" x="665" y="1711.5">CS_36_Eger_HUN</text></g>
<g id="L197" class="k"><rect x="661" y="1716.3" width="2.6" height="2.6"/><text class="t" x="665" y="1720.2">Schmahlfelds_Schwarze_DEU</text></g>
<g id="L198" class="ol"><rect x="661" y="1724.9" width="2.6" height="2.6"/><text class="t" x="665" y="1728.8">Seveler_prob.CHE</text></g>
<g id="L199" class="k"><rect x="661" y="1733.6" width="2.6" height="2.6"/><text class="t" x="665" y="1737.5">Nanni_DEU</text></g>
<g id="L200" class="k"><rect x="661" y="1742.3" width="2.6" height="2.6"/><text class="t" x="665" y="1746.2">Schwarze_Werdersche_DEU</text></g>
<g id="L201" class="g"><rect x="661" y="1751" width="2.6" height="2.6"/><text class="t" x="665" y="1754.9">Pa_279_unknown</text></g>
<g id="L202" class="g"><rect x="661" y="1759.6" width="2.6" height="2.6"/><text class="t" x="665" y="1763.5">Prunus_nipponica_F1292_unknown</text></g>
<g id="L203" class="g"><rect x="661" y="1768.3" width="2.6" height="2.6"/><text class="t" x="665" y="1772.2">Prunus_incisa_E621_unknown</text></g>
<g id="L204" class="g"><rect x="661" y="1777" width="2.6" height="2.6"/><text class="t" x="665" y="1780.9">Prunus_mahaleb_SL_64_unknown</text></g>
<g id="L205" class="g"><rect x="661" y="1785.7" width="2.6" height="2.6"/><text class="t" x="665" y="1789.6">Pa_248_unknown</text></g>
<g id="L206" class="g"><rect x="661" y="1794.3" width="2.6" height="2.6"/><text class="t" x="665" y="1798.2">Pa_349_unknown</text></g>
<g id="L207" class="g"><rect x="661" y="1803" width="2.6" height="2.6"/><text class="t" x="665" y="1806.9">Pa_107_unknown</text></g>
<g id="L208" class="g"><rect x="661" y="1811.7" width="2.6" height="2.6"/><text class="t" x="665" y="1815.6">Pa_263_unknown</text></g>
<g id="L209" class="k"><rect x="661" y="1820.3" width="2.6" height="2.6"/><text class="t" x="665" y="1824.2">Erika_DEU</text></g>
<g id="L210" class="r"><rect x="661" y="1829" width="2.6" height="2.6"/><text class="t" x="665" y="1832.9">Chelan_USA</text></g>
<g id="L211" class="k"><rect x="661" y="1837.7" width="2.6" height="2.6"/><text class="t" x="665" y="1841.6">Nalete_DEU</text></g>
<g id="L212" class="k"><rect x="661" y="1846.4" width="2.6" height="2.6"/><text class="t" x="665" y="1850.3">Schleihahnskirsche_DEU</text></g>
<g id="L213" class="mf"><rect x="661" y="1855" width="2.6" height="2.6"/><text class="t" x="665" y="1858.9">Melitopol-skaa_rannaa__UKR</text></g>
<g id="L214" class="dr"><rect x="661" y="1863.7" width="2.6" height="2.6"/><text class="t" x="665" y="1867.6">Pico_Negro_ESP</text></g>
<g id="L215" class="g"><rect x="661" y="1872.4" width="2.6" height="2.6"/><text class="t" x="665" y="1876.3">Pa_174_unknown</text></g>
<g id="L216" class="k"><rect x="661" y="1881.1" width="2.6" height="2.6"/><text class="t" x="665" y="1885">Valeska_DEU</text></g>
<g id="L217" class="k"><rect x="661" y="1889.7" width="2.6" height="2.6"/><text class="t" x="665" y="1893.6">Narika_DEU</text></g>
<g id="L218" class="lb"><rect x="661" y="1898.4" width="2.6" height="2.6"/><text class="t" x="665" y="1902.3">Schwarze_Tatarische_RUS</text></g>
<g id="L219" class="k"><rect x="661" y="1907.1" width="2.6" height="2.6"/><text class="t" x="665" y="1911">Stechmanns_Bunte_DEU</text></g>
</g>
</svg>
